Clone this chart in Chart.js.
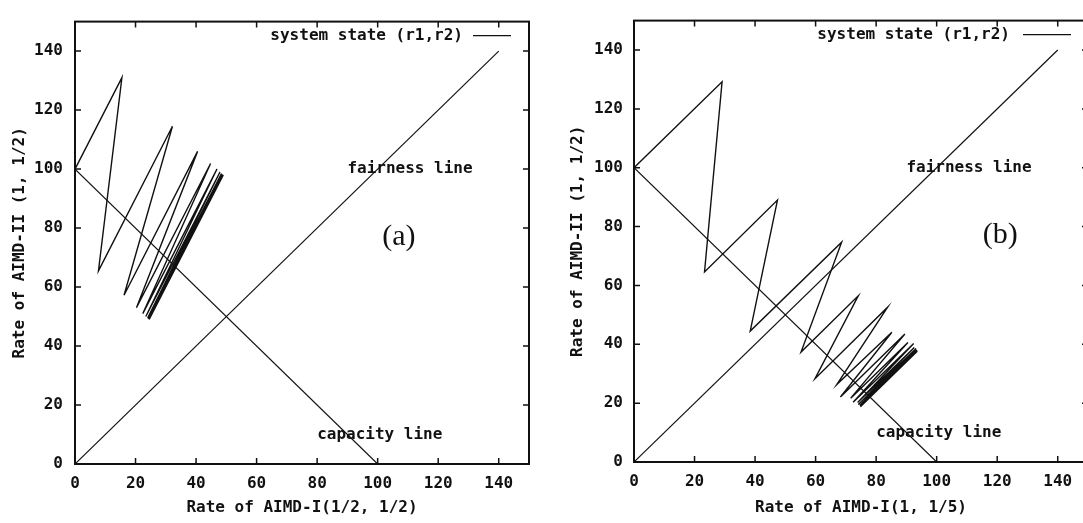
<!DOCTYPE html>
<html>
<head>
<meta charset="utf-8">
<script src="https://cdn.jsdelivr.net/npm/chart.js@4"></script>
<style>
  html, body { margin: 0; padding: 0; background: #fff; overflow: hidden; }
  #wrap { position: relative; width: 1083px; height: 523px; overflow: hidden; }
  canvas { position: absolute; top: 0; }
</style>
</head>
<body>
<div id="wrap">
  <canvas id="chartA" width="545" height="523" style="left:0px"></canvas>
  <canvas id="chartB" width="560" height="523" style="left:540px"></canvas>
</div>
<script>
// tick labels (both axes, both panels)
var tickVals = [0, 20, 40, 60, 80, 100, 120, 140];

// (a) AIMD-I(1/2,1/2) vs AIMD-II(1,1/2): turning points of the trajectory
var trajAx = [0, 15.5, 7.75, 32.2, 16.2, 40.5, 20.3, 44.8, 22.4, 46.9, 23.4, 47.9, 24.0, 48.4, 24.2, 48.7, 24.4, 48.9, 24.5, 48.9, 24.5, 49.0, 24.5, 49.0];
var trajAy = [100, 131, 65.5, 114.5, 57.2, 106.0, 53.0, 101.9, 51.0, 100.0, 50.0, 99.0, 49.5, 98.5, 49.2, 98.2, 49.1, 98.1, 49.0, 98.0, 49.0, 98.0, 49.0, 98.0];

// (b) AIMD-I(1,1/5) vs AIMD-II(1,1/2)
var trajBx = [0, 29.1, 23.3, 47.4, 38.4, 68.6, 55.2, 74.1, 59.8, 83.8, 67.0, 85.2, 68.2, 89.5, 71.6, 90.5, 72.4, 92.4, 73.9, 92.6, 74.1, 93.2, 74.6, 93.4, 74.7, 93.6, 74.9, 93.5, 74.8, 93.6];
var trajBy = [100, 129.2, 64.6, 89.0, 44.5, 74.7, 37.4, 56.5, 28.3, 52.6, 26.3, 44.1, 22.1, 43.5, 21.7, 40.6, 20.3, 40.3, 20.2, 38.9, 19.5, 38.6, 19.3, 38.1, 19.0, 37.9, 19.0, 37.6, 18.8, 37.6];

// reference lines
var fairX = [0, 140];
var fairY = [0, 140];
var capX = [0, 100];
var capY = [100, 0];

var legendText = 'system state (r1,r2)';
var xTitles = ['Rate of AIMD-I(1/2, 1/2)', 'Rate of AIMD-I(1, 1/5)'];
var yTitle = 'Rate of AIMD-II (1, 1/2)';
var panelTags = ['(a)', '(b)'];

var monoFont = '"DejaVu Sans Mono", "Liberation Mono", monospace';
var ink = '#111';

function toPoints(xs, ys) {
  var pts = [];
  for (var i = 0; i < xs.length; i++) {
    pts.push({x: xs[i], y: ys[i]});
  }
  return pts;
}

// frame with inward ticks on all four sides, legend and text labels (gnuplot style)
var gnuplotDecor = {
  id: 'gnuplotDecor',
  afterDraw: function(chart) {
    var ctx = chart.ctx;
    var a = chart.chartArea;
    var xs = chart.scales.x, ys = chart.scales.y;
    var opt = chart.options.plugins.gnuplotDecor;
    ctx.save();
    ctx.strokeStyle = ink;
    ctx.lineWidth = 2;
    ctx.strokeRect(a.left, a.top, a.right - a.left, a.bottom - a.top);
    ctx.lineWidth = 1.5;
    ctx.beginPath();
    tickVals.forEach(function(v) {
      var px = xs.getPixelForValue(v);
      var py = ys.getPixelForValue(v);
      ctx.moveTo(px, a.bottom); ctx.lineTo(px, a.bottom - 6);
      ctx.moveTo(px, a.top); ctx.lineTo(px, a.top + 6);
      ctx.moveTo(a.left, py); ctx.lineTo(a.left + 6, py);
      ctx.moveTo(a.right, py); ctx.lineTo(a.right - 6, py);
    });
    ctx.stroke();

    // legend: text then a short line sample
    var lg = opt.legend;
    var ly = a.top + 14;
    ctx.fillStyle = ink;
    ctx.font = 'bold 16px ' + monoFont;
    ctx.textAlign = 'right';
    ctx.textBaseline = 'middle';
    ctx.fillText(legendText, a.right - lg.textEnd, ly);
    ctx.lineWidth = 1.3;
    ctx.beginPath();
    ctx.moveTo(a.right - lg.lineStart, ly);
    ctx.lineTo(a.right - lg.lineEnd, ly);
    ctx.stroke();

    // labels in data coordinates
    opt.labels.forEach(function(l) {
      ctx.font = l.font;
      ctx.textAlign = l.align;
      ctx.textBaseline = 'middle';
      ctx.fillText(l.text, xs.getPixelForValue(l.x), ys.getPixelForValue(l.y));
    });
    ctx.restore();
  }
};

function makePanel(id, trajX, trajY, xTitle, tag, tagX, box) {
  var tickFont = {family: monoFont, size: 16, weight: 'bold'};
  return new Chart(document.getElementById(id), {
    type: 'scatter',
    data: {
      datasets: [
        {data: toPoints(trajX, trajY), showLine: true, borderColor: ink, borderWidth: 1.4, pointRadius: 0, tension: 0},
        {data: toPoints(fairX, fairY), showLine: true, borderColor: ink, borderWidth: 1.2, pointRadius: 0},
        {data: toPoints(capX, capY), showLine: true, borderColor: ink, borderWidth: 1.2, pointRadius: 0}
      ]
    },
    options: {
      responsive: false,
      animation: false,
      devicePixelRatio: 1,
      layout: {padding: {top: box.top, right: box.right, left: 0, bottom: 0}},
      plugins: {
        legend: {display: false},
        tooltip: {enabled: false},
        gnuplotDecor: {
          legend: box.legend,
          labels: [
            {text: 'fairness line', x: 90, y: 100, align: 'left', font: 'bold 16px ' + monoFont},
            {text: 'capacity line', x: 80, y: 10, align: 'left', font: 'bold 16px ' + monoFont},
            {text: tag, x: tagX, y: 77, align: 'center', font: '30px "Liberation Serif", "DejaVu Serif", serif'}
          ]
        }
      },
      scales: {
        x: {
          type: 'linear', min: 0, max: 150,
          afterBuildTicks: function(s) { s.ticks = tickVals.map(function(v) { return {value: v}; }); },
          afterFit: function(s) { s.height = box.xh; },
          grid: {display: false, drawTicks: false},
          border: {display: false},
          ticks: {font: tickFont, color: ink, padding: 10, maxRotation: 0},
          title: {display: true, text: xTitle, font: tickFont, color: ink, padding: {top: 0, bottom: 6}}
        },
        y: {
          type: 'linear', min: 0, max: 150,
          afterBuildTicks: function(s) { s.ticks = tickVals.map(function(v) { return {value: v}; }); },
          afterFit: function(s) { s.width = box.yw; },
          grid: {display: false, drawTicks: false},
          border: {display: false},
          ticks: {font: tickFont, color: ink, padding: box.tp},
          title: {display: true, text: yTitle, font: tickFont, color: ink, padding: {top: box.tt, bottom: 0}}
        }
      }
    },
    plugins: [gnuplotDecor]
  });
}

makePanel('chartA', trajAx, trajAy, xTitles[0], panelTags[0], 107,
  {top: 9, right: 16, xh: 59, yw: 75, tp: 12, tt: 10, legend: {textEnd: 66, lineStart: 56, lineEnd: 18}});
makePanel('chartB', trajBx, trajBy, xTitles[1], panelTags[1], 121,
  {top: 7, right: 12, xh: 61, yw: 94, tp: 11, tt: 28, legend: {textEnd: 78, lineStart: 65, lineEnd: 17}});
</script>
</body>
</html>
